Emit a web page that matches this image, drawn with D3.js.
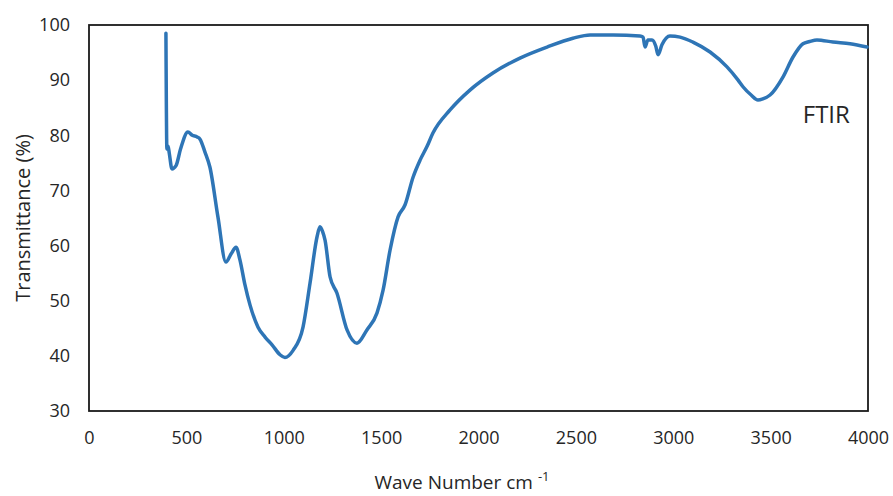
<!DOCTYPE html>
<html>
<head>
<meta charset="utf-8">
<script src="https://cdnjs.cloudflare.com/ajax/libs/d3/7.8.5/d3.min.js"></script>
<style>
  body { margin: 0; background: #fff; }
  text { font-family: "Open Sans", "Noto Sans", sans-serif; fill: #262626; }
</style>
</head>
<body>
<div id="chart"></div>
<script>
// spectrum
var waveNumber = [395, 400, 406, 412, 426, 447, 470, 508, 530, 555, 570, 595, 621, 662, 703, 730, 755, 775,
  800, 827, 868, 904, 940, 981, 1006, 1048, 1099, 1135, 1171, 1186, 1200, 1212, 1238, 1273, 1325, 1376,
  1427, 1479, 1510, 1546, 1587, 1623, 1664, 1700, 1736, 1766, 1854, 1956, 2074, 2213, 2352, 2485, 2573,
  2691, 2829, 2845, 2855, 2870, 2891, 2910, 2922, 2942, 2983, 3035, 3101, 3189, 3276, 3333, 3358, 3400,
  3435, 3460, 3497, 3564, 3615, 3666, 3700, 3738, 3820, 3908, 3995];
var transmittance = [98.5, 77.5, 78.0, 76.8, 73.9, 74.5, 77.5, 80.6, 80.0, 79.7, 79.3, 77.0, 74.2, 65.2, 57.0, 58.5, 59.7, 57.4,
  53.0, 49.2, 45.2, 43.4, 42.0, 40.2, 39.7, 41.0, 45.2, 53.2, 61.6, 63.4, 62.5, 61.0, 54.3, 51.4, 44.7, 42.3,
  44.7, 47.8, 51.9, 59.2, 65.2, 67.4, 72.4, 75.5, 78.0, 80.4, 84.6, 88.2, 91.3, 94.0, 96.0, 97.6, 98.2,
  98.2, 98.0, 97.8, 96.0, 97.3, 97.3, 96.2, 94.6, 96.4, 98.0, 97.8, 96.9, 95.1, 92.4, 90.0, 88.8, 87.3,
  86.4, 86.6, 87.3, 90.6, 94.2, 96.6, 97.0, 97.3, 96.9, 96.6, 96.0];

var xTicks = [0, 500, 1000, 1500, 2000, 2500, 3000, 3500, 4000];
var yTicks = [30, 40, 50, 60, 70, 80, 90, 100];

var svgWidth = 893;
var svgHeight = 496;

var margin = { top: 25, right: 25, bottom: 85, left: 89 };
var width = svgWidth - margin.left - margin.right;
var height = svgHeight - margin.top - margin.bottom;

var svg = d3.select("#chart")
  .append("svg")
  .attr("width", svgWidth)
  .attr("height", svgHeight);

var chartGroup = svg.append("g")
  .attr("transform", `translate(${margin.left}, ${margin.top})`);

var data = waveNumber.map(function(w, i) {
  return { x: w, y: transmittance[i] };
});

var xLinearScale = d3.scaleLinear()
  .domain([0, 4000])
  .range([0, width]);

var yLinearScale = d3.scaleLinear()
  .domain([30, 100])
  .range([height, 0]);

// axes without tick marks, labels only
var bottomAxis = d3.axisBottom(xLinearScale).tickValues(xTicks).tickFormat(d3.format("d"))
  .tickSize(0).tickPadding(20);
var leftAxis = d3.axisLeft(yLinearScale).tickValues(yTicks).tickFormat(d3.format("d"))
  .tickSize(0).tickPadding(19);

chartGroup.append("g")
  .attr("transform", `translate(0, ${height})`)
  .call(bottomAxis);

chartGroup.append("g")
  .call(leftAxis);

chartGroup.selectAll(".domain").remove();
chartGroup.selectAll(".tick text")
  .style("font-size", "18px")
  .style("font-family", "'Open Sans', sans-serif")
  .attr("fill", "#262626");

// plot border
chartGroup.append("rect")
  .attr("x", 0)
  .attr("y", 0)
  .attr("width", width)
  .attr("height", height)
  .attr("fill", "none")
  .attr("stroke", "#1a1a1a")
  .attr("stroke-width", 1.8);

// spectrum line
var line = d3.line()
  .x(d => xLinearScale(d.x))
  .y(d => yLinearScale(d.y))
  .curve(d3.curveMonotoneX);

chartGroup.append("path")
  .datum(data)
  .attr("d", line)
  .attr("fill", "none")
  .attr("stroke", "#2e75b6")
  .attr("stroke-width", 3.5)
  .attr("stroke-linejoin", "round")
  .attr("stroke-linecap", "round");

// FTIR label
chartGroup.append("text")
  .attr("x", xLinearScale(3665))
  .attr("y", 123 - margin.top)
  .style("font-size", "24px")
  .text("FTIR");

// y axis title
svg.append("text")
  .attr("transform", `translate(30, ${margin.top + height / 2}) rotate(-90)`)
  .attr("text-anchor", "middle")
  .style("font-size", "20px")
  .text("Transmittance (%)");

// x axis title
var xTitle = svg.append("text")
  .attr("x", 462)
  .attr("y", 489)
  .attr("text-anchor", "middle")
  .style("font-size", "19px");
xTitle.append("tspan").text("Wave Number cm ");
xTitle.append("tspan")
  .attr("dy", -8)
  .style("font-size", "13px")
  .text("-1");
</script>
</body>
</html>
